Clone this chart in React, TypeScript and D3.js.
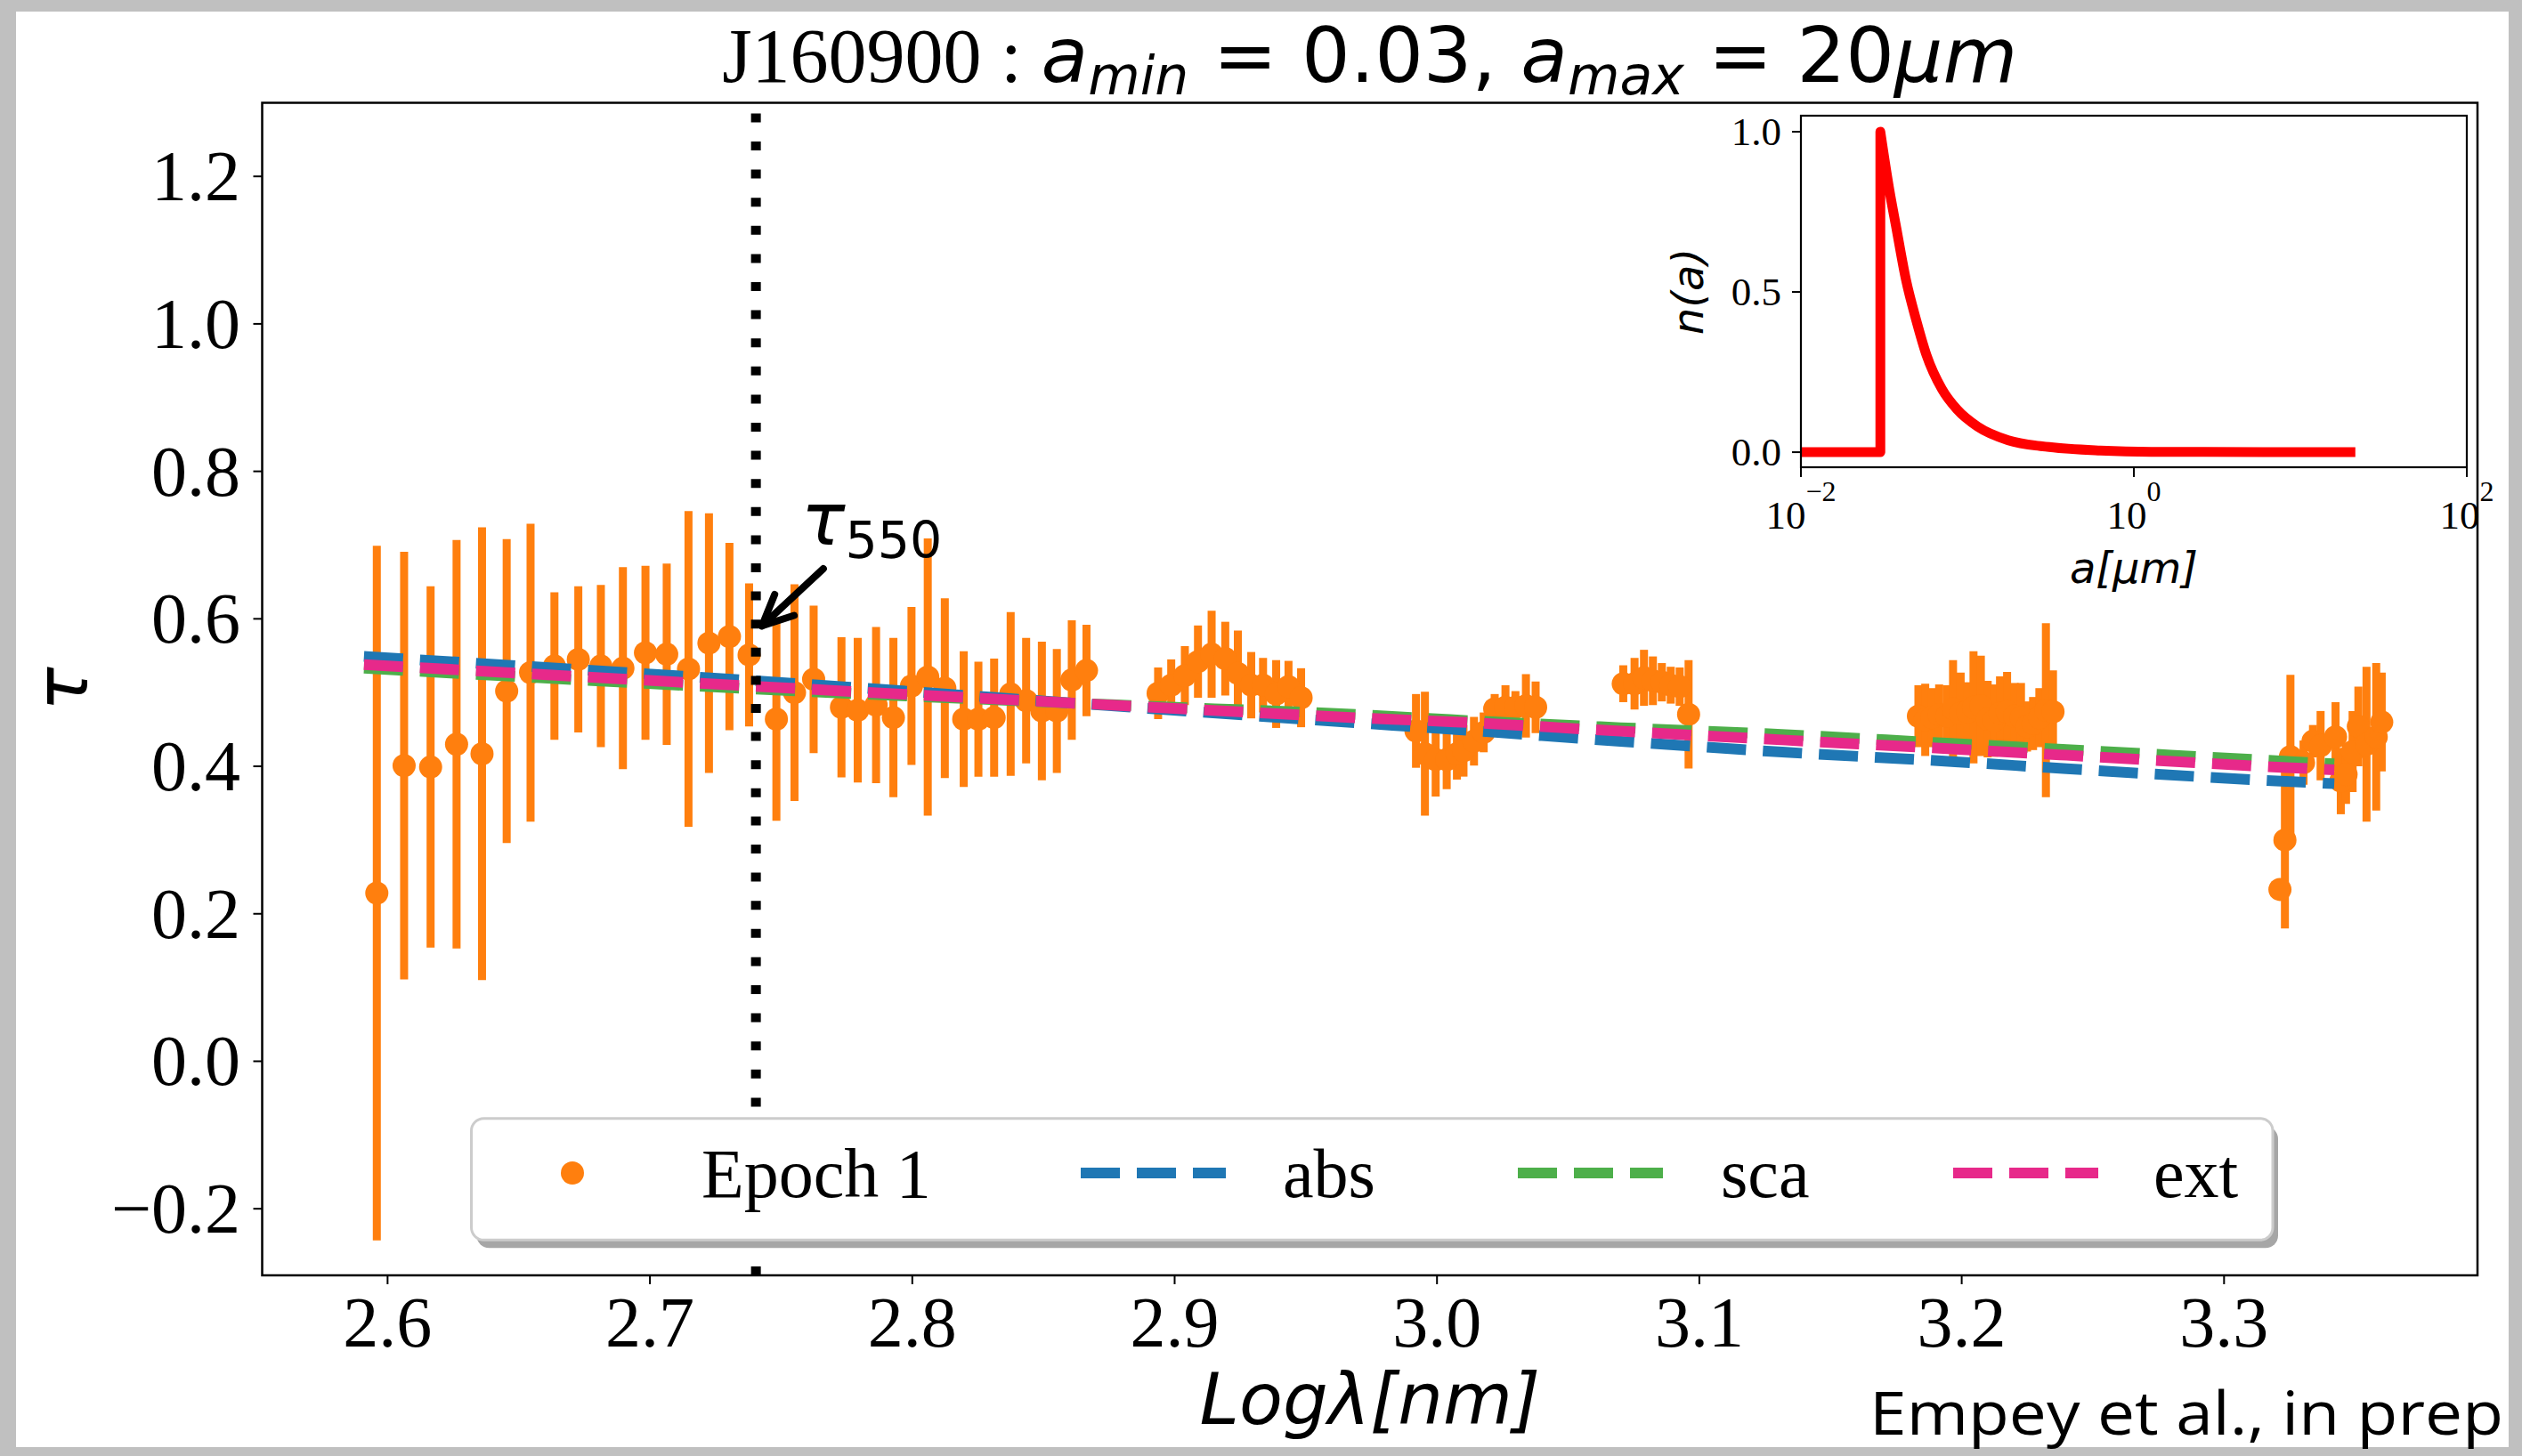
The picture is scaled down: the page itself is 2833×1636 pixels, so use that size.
import React from 'react';
import * as d3 from 'd3';

const W = 2833;
const H = 1636;

// ---------- Epoch 1 data (log10 lambda [nm], tau, symmetric error) ----------
const EPOCH1_LOGLAM = [
  2.5959, 2.6063, 2.6164, 2.6263, 2.6360, 2.6454, 2.6545, 2.6636, 2.6727, 2.6813,
  2.6897, 2.6983, 2.7064, 2.7147, 2.7225, 2.7303, 2.7378, 2.7482, 2.7551, 2.7624,
  2.7730, 2.7792, 2.7862, 2.7928, 2.7997, 2.8059, 2.8124, 2.8196, 2.8252, 2.8312,
  2.8375, 2.8434, 2.8494, 2.8551, 2.8608, 2.8664,
  2.8937, 2.8987, 2.9039, 2.9089, 2.9141, 2.9193, 2.9241, 2.9292, 2.9337, 2.9387, 2.9434, 2.9482,
  2.9920, 2.9954, 2.9995, 3.0037, 3.0076, 3.0101, 3.0141, 3.0178, 3.0220, 3.0261, 3.0299, 3.0339, 3.0376,
  3.0710, 3.0753, 3.0789, 3.0823, 3.0857, 3.0891, 3.0925, 3.0959,
  3.1835, 3.1861, 3.1886, 3.1914, 3.1943, 3.1967, 3.1996, 3.2022, 3.2045, 3.2073, 3.2099,
  3.2124, 3.2146, 3.2173, 3.2202, 3.2226, 3.2249, 3.2272, 3.2296, 3.2321, 3.2348,
  3.3213, 3.3232, 3.3253, 3.3303, 3.3339, 3.3368, 3.3425, 3.3445, 3.3465, 3.3490, 3.3512, 3.3543, 3.3580, 3.3601,
];
const EPOCH1_TAU = [
  0.228, 0.401, 0.399, 0.430, 0.417, 0.502, 0.527, 0.536, 0.545, 0.536,
  0.533, 0.554, 0.552, 0.532, 0.567, 0.576, 0.551, 0.464, 0.500, 0.518,
  0.480, 0.476, 0.483, 0.466, 0.509, 0.521, 0.506, 0.464, 0.464, 0.466,
  0.498, 0.489, 0.475, 0.475, 0.517, 0.530,
  0.499, 0.510, 0.523, 0.542, 0.552, 0.546, 0.526, 0.510, 0.510, 0.498, 0.508, 0.493,
  0.448, 0.417, 0.409, 0.409, 0.417, 0.421, 0.434, 0.446, 0.478, 0.480, 0.480, 0.482, 0.480,
  0.512, 0.512, 0.520, 0.516, 0.514, 0.510, 0.508, 0.4705,
  0.468, 0.463, 0.466, 0.470, 0.468, 0.478, 0.472, 0.474, 0.480, 0.482, 0.464,
  0.462, 0.472, 0.474, 0.468, 0.466, 0.454, 0.458, 0.466, 0.476, 0.474,
  0.233, 0.300, 0.413, 0.405, 0.434, 0.428, 0.440, 0.380, 0.389, 0.420, 0.454, 0.430, 0.440, 0.460,
];
const EPOCH1_ERR = [
  0.471, 0.290, 0.245, 0.277, 0.307, 0.206, 0.202, 0.100, 0.099, 0.110,
  0.137, 0.118, 0.123, 0.214, 0.176, 0.127, 0.097, 0.138, 0.147, 0.100,
  0.095, 0.098, 0.106, 0.108, 0.107, 0.188, 0.122, 0.092, 0.078, 0.080,
  0.111, 0.085, 0.094, 0.084, 0.081, 0.062,
  0.035, 0.035, 0.040, 0.049, 0.059, 0.050, 0.058, 0.045, 0.037, 0.046, 0.035, 0.040,
  0.050, 0.084, 0.050, 0.040, 0.035, 0.035, 0.033, 0.027, 0.020, 0.030, 0.022, 0.043, 0.035,
  0.025, 0.035, 0.038, 0.033, 0.026, 0.025, 0.026, 0.0735,
  0.042, 0.049, 0.040, 0.041, 0.042, 0.066, 0.055, 0.040, 0.076, 0.068, 0.052,
  0.049, 0.050, 0.054, 0.045, 0.047, 0.034, 0.036, 0.040, 0.118, 0.056,
  0.012, 0.120, 0.111, 0.030, 0.022, 0.047, 0.047, 0.045, 0.040, 0.055, 0.054, 0.105, 0.100, 0.067,
];

// ---------- model curves ----------
const FIT_LOGLAM = [2.591, 2.769, 2.876, 2.983, 3.005, 3.07, 3.133, 3.1975, 3.24, 3.3255, 3.342];
const ABS_TAU = [0.549, 0.509, 0.482, 0.4557, 0.4504, 0.4339, 0.419, 0.4062, 0.3967, 0.3792, 0.3764];
const SCA_TAU = [0.533, 0.500, 0.4835, 0.4677, 0.4633, 0.4524, 0.443, 0.4307, 0.4227, 0.4065, 0.4034];
const EXT_TAU = [0.538, 0.503, 0.483, 0.4637, 0.4605, 0.4476, 0.4355, 0.4234, 0.415, 0.398, 0.3953];

// ---------- axes ----------
const X_DOMAIN = [2.5522, 3.3966];
const Y_DOMAIN = [-0.2903, 1.2998];
const X_TICKS = [2.6, 2.7, 2.8, 2.9, 3.0, 3.1, 3.2, 3.3];
const Y_TICKS = [-0.2, 0.0, 0.2, 0.4, 0.6, 0.8, 1.0, 1.2];

// tau_550 marker
const LOG_550 = 2.7404;
const ARROW_TIP = [2.7427, 0.5905];
const ARROW_TAIL = [2.7661, 0.668];
const TAU_TEXT_POS = [2.7577, 0.7007];

// ---------- inset: grain size distribution ----------
const SIZE_A = [0.01, 0.03, 0.03, 0.0341, 0.0372, 0.0428, 0.0494, 0.0568, 0.0703, 0.0868, 0.115, 0.176, 0.31, 0.628, 1.27, 20];
const SIZE_N = [0, 0, 1.0, 0.814, 0.707, 0.537, 0.41, 0.303, 0.197, 0.133, 0.08, 0.037, 0.016, 0.005, 0.001, 0];
const INSET_X_DOMAIN = [0.01, 100];
const INSET_Y_DOMAIN = [-0.047, 1.05];
const INSET_X_TICKS = [0.01, 1, 100];
const INSET_X_EXP = ['\u22122', '0', '2'];
const INSET_Y_TICKS = [0.0, 0.5, 1.0];

const LEGEND_LABELS = ['Epoch 1', 'abs', 'sca', 'ext'];

const ORANGE = '#ff7f0e';
const BLUE = '#1f77b4';
const GREEN = '#4daf4a';
const PINK = '#e7298a';

const SERIF = '"Liberation Serif", "Times New Roman", serif';
const SANS = '"DejaVu Sans", sans-serif';

export default function App() {
  const L = 294.5, R = 2783, T = 115.5, B = 1433;
  const x = d3.scaleLinear().domain(X_DOMAIN).range([L, R]);
  const y = d3.scaleLinear().domain(Y_DOMAIN).range([B, T]);

  const pts = EPOCH1_LOGLAM.map((lx, i) => ({ lx, t: EPOCH1_TAU[i], e: EPOCH1_ERR[i] }));

  const fitLine = d3.line<[number, number]>()
    .x(d => x(d[0])).y(d => y(d[1])).curve(d3.curveMonotoneX);
  const series = [
    { vals: ABS_TAU, color: BLUE },
    { vals: SCA_TAU, color: GREEN },
    { vals: EXT_TAU, color: PINK },
  ];

  // arrow
  const tip = [x(ARROW_TIP[0]), y(ARROW_TIP[1])];
  const tail = [x(ARROW_TAIL[0]), y(ARROW_TAIL[1])];
  const dx = tail[0] - tip[0], dy = tail[1] - tip[1];
  const len = Math.hypot(dx, dy);
  const ux = dx / len, uy = dy / len;
  const hl = 38, ang = (25 * Math.PI) / 180;
  const arm = (s: number) => [
    tip[0] + hl * (ux * Math.cos(s * ang) - uy * Math.sin(s * ang)),
    tip[1] + hl * (ux * Math.sin(s * ang) + uy * Math.cos(s * ang)),
  ];
  const a1 = arm(1), a2 = arm(-1);

  // inset
  const IL = 2023, IR = 2771, IT = 130, IB = 525;
  const ix = d3.scaleLog().domain(INSET_X_DOMAIN).range([IL, IR]);
  const iy = d3.scaleLinear().domain(INSET_Y_DOMAIN).range([IB, IT]);
  const sizePts: [number, number][] = SIZE_A.map((a, i) => [a, SIZE_N[i]]);
  const linPart = d3.line<[number, number]>().x(d => ix(d[0])).y(d => iy(d[1]))(sizePts.slice(0, 3)) || '';
  const monoPart = (d3.line<[number, number]>().x(d => ix(d[0])).y(d => iy(d[1])).curve(d3.curveMonotoneX)(sizePts.slice(2)) || '').replace(/^M/, 'L');
  const sizePath = linPart + monoPart;

  const fmtY = (v: number) => (v < 0 ? '\u2212' + Math.abs(v).toFixed(1) : v.toFixed(1));

  // legend layout
  const legY = 1318;
  const legHandles = [
    { kind: 'dot', x0: 643, tx: 788 },
    { kind: 'line', color: BLUE, x0: 1214, x1: 1377, tx: 1441 },
    { kind: 'line', color: GREEN, x0: 1705, x1: 1868, tx: 1933 },
    { kind: 'line', color: PINK, x0: 2194, x1: 2357, tx: 2419 },
  ];

  return (
    <div style={{ position: 'absolute', left: 0, top: 0, width: W, height: H, overflow: 'hidden' }}>
      <svg width={W} height={H} viewBox={`0 0 ${W} ${H}`} style={{ display: 'block' }}>
        <defs>
          <clipPath id="mainClip"><rect x={L} y={T} width={R - L} height={B - T} /></clipPath>
          <clipPath id="insetClip"><rect x={IL} y={IT} width={IR - IL} height={IB - IT} /></clipPath>
        </defs>
        <rect x={0} y={0} width={W} height={H} fill="#c0c0c0" />
        <rect x={18} y={13} width={2800} height={1613} fill="#ffffff" />

        {/* data */}
        <g clipPath="url(#mainClip)">
          {pts.map((p, i) => (
            <line key={'e' + i} x1={x(p.lx)} x2={x(p.lx)} y1={y(p.t - p.e)} y2={y(p.t + p.e)}
              stroke={ORANGE} strokeWidth={9} />
          ))}
          {pts.map((p, i) => (
            <circle key={'m' + i} cx={x(p.lx)} cy={y(p.t)} r={13} fill={ORANGE} />
          ))}
          {series.map((s, k) => (
            <path key={'s' + k}
              d={fitLine(FIT_LOGLAM.map((lx, i) => [lx, s.vals[i]] as [number, number])) || ''}
              fill="none" stroke={s.color} strokeWidth={12} strokeDasharray="44 19" />
          ))}
          <line x1={x(LOG_550)} x2={x(LOG_550)} y1={B} y2={T} stroke="#000" strokeWidth={11}
            strokeDasharray="10 21.6" />
        </g>

        {/* tau550 annotation */}
        <text x={x(TAU_TEXT_POS[0])} y={y(TAU_TEXT_POS[1])} fontFamily={SANS} fontSize={82} fill="#000">
          <tspan fontStyle="italic">τ</tspan>
          <tspan fontSize={57} dy={15}>550</tspan>
        </text>
        <g stroke="#000" strokeWidth={8} fill="none" strokeLinecap="round" strokeLinejoin="round">
          <line x1={tail[0]} y1={tail[1]} x2={tip[0]} y2={tip[1]} />
          <path d={`M${a1[0]},${a1[1]} L${tip[0]},${tip[1]} L${a2[0]},${a2[1]}`} />
        </g>

        {/* spines */}
        <rect x={L} y={T} width={R - L} height={B - T} fill="none" stroke="#000" strokeWidth={2.5} />

        {/* x ticks */}
        {X_TICKS.map(t => (
          <g key={'xt' + t}>
            <line x1={x(t)} x2={x(t)} y1={B} y2={B + 10} stroke="#000" strokeWidth={2} />
            <text x={x(t)} y={1513} textAnchor="middle" fontFamily={SERIF} fontSize={80} fill="#000">
              {t.toFixed(1)}
            </text>
          </g>
        ))}
        {/* y ticks */}
        {Y_TICKS.map(t => (
          <g key={'yt' + t}>
            <line x1={L - 10} x2={L} y1={y(t)} y2={y(t)} stroke="#000" strokeWidth={2} />
            <text x={270} y={y(t)} dy={27} textAnchor="end" fontFamily={SERIF} fontSize={80} fill="#000">
              {fmtY(t)}
            </text>
          </g>
        ))}

        {/* axis labels */}
        <text x={(L + R) / 2} y={1600} textAnchor="middle" fontFamily={SANS} fontStyle="italic" fontSize={80} fill="#000">
          Logλ[nm]
        </text>
        <text transform={`translate(98, ${(T + B) / 2}) rotate(-90)`} textAnchor="middle" fontFamily={SANS}
          fontStyle="italic" fontSize={82} fill="#000">τ</text>

        {/* legend */}
        <rect x={535.5} y={1265.7} width={2023.5} height={136.6} rx={14} fill="#a6a6a6" />
        <rect x={529.5} y={1256.7} width={2023.5} height={136.6} rx={14} fill="#fff" stroke="#cccccc" strokeWidth={3} />
        {legHandles.map((h, i) => (
          <g key={'lg' + i}>
            {h.kind === 'dot'
              ? <circle cx={h.x0} cy={legY} r={13} fill={ORANGE} />
              : <line x1={h.x0} x2={h.x1} y1={legY} y2={legY} stroke={h.color} strokeWidth={12} strokeDasharray="44 19" />}
            <text x={h.tx} y={1345} fontFamily={SERIF} fontSize={78} fill="#000">{LEGEND_LABELS[i]}</text>
          </g>
        ))}

        {/* inset */}
        <rect x={IL} y={IT} width={IR - IL} height={IB - IT} fill="#fff" />
        <g clipPath="url(#insetClip)">
          <path d={sizePath} fill="none" stroke="#ff0000" strokeWidth={11} strokeLinejoin="round" strokeLinecap="square" />
        </g>
        <rect x={IL} y={IT} width={IR - IL} height={IB - IT} fill="none" stroke="#000" strokeWidth={2.2} />
        {INSET_Y_TICKS.map(t => (
          <g key={'iyt' + t}>
            <line x1={IL - 10} x2={IL} y1={iy(t)} y2={iy(t)} stroke="#000" strokeWidth={2} />
            <text x={2001} y={iy(t)} dy={15} textAnchor="end" fontFamily={SERIF} fontSize={45} fill="#000">
              {t.toFixed(1)}
            </text>
          </g>
        ))}
        {INSET_X_TICKS.map((t, i) => (
          <g key={'ixt' + i}>
            <line x1={ix(t)} x2={ix(t)} y1={IB} y2={IB + 11} stroke="#000" strokeWidth={2} />
            <text x={ix(t)} y={594} textAnchor="middle" fontFamily={SERIF} fontSize={45} fill="#000">
              <tspan>10</tspan>
              <tspan fontSize={32} dy={-31}>{INSET_X_EXP[i]}</tspan>
            </text>
          </g>
        ))}
        <text x={(IL + IR) / 2} y={655} textAnchor="middle" fontFamily={SANS} fontStyle="italic" fontSize={48} fill="#000">
          a[μm]
        </text>
        <text transform={`translate(1913, ${(IT + IB) / 2}) rotate(-90)`} textAnchor="middle" fontFamily={SANS}
          fontStyle="italic" fontSize={48} fill="#000">n(a)</text>

        {/* title */}
        <text x={(L + R) / 2} y={92} textAnchor="middle" fontSize={86} fill="#000" style={{ whiteSpace: 'pre' }}>
          <tspan fontFamily={SERIF}>{'J160900 : '}</tspan>
          <tspan fontFamily={SANS} fontStyle="italic">a</tspan>
          <tspan fontFamily={SANS} fontStyle="italic" fontSize={60} dy={14}>min</tspan>
          <tspan fontFamily={SANS} dy={-14}>{' = 0.03, '}</tspan>
          <tspan fontFamily={SANS} fontStyle="italic">a</tspan>
          <tspan fontFamily={SANS} fontStyle="italic" fontSize={60} dy={14}>max</tspan>
          <tspan fontFamily={SANS} dy={-14}>{' = 20'}</tspan>
          <tspan fontFamily={SANS} fontStyle="italic">μm</tspan>
        </text>

        {/* credit */}
        <text x={2100} y={1612} fontFamily='"Open Sans", sans-serif' fontSize={68} fill="#000"
          textLength={712} lengthAdjust="spacingAndGlyphs">Empey et al., in prep</text>
      </svg>
    </div>
  );
}
